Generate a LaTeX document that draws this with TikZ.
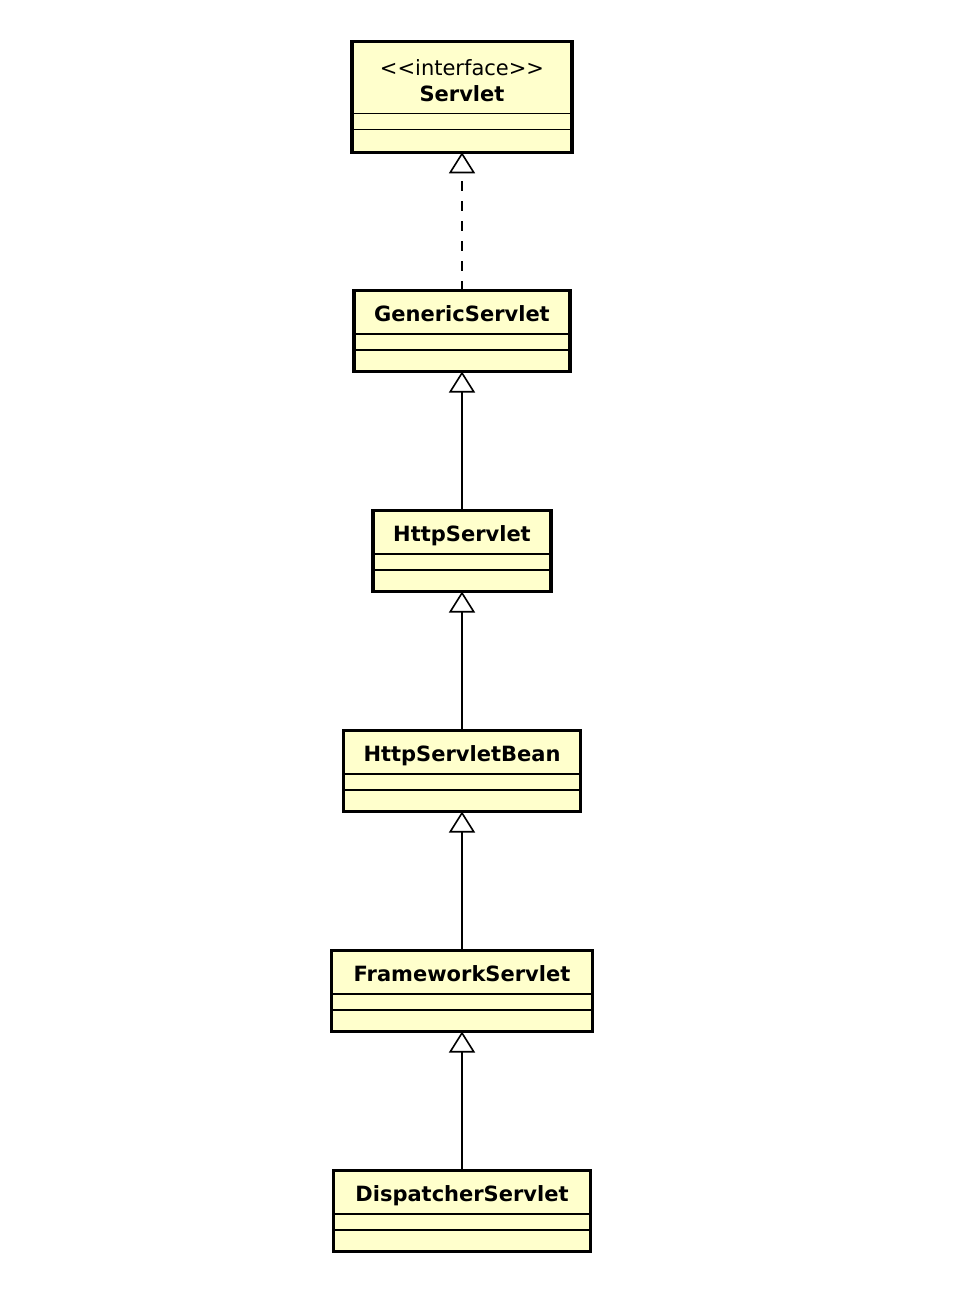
\documentclass[tikz,border=0pt]{standalone}
\usepackage{fontspec}
\setmainfont{DejaVu Sans}
\usetikzlibrary{arrows.meta,positioning}
\definecolor{classfill}{HTML}{FFFFCC}
\tikzset{
  classname/.style={draw, line width=1.4pt, fill=classfill, outer sep=0pt, inner sep=0pt,
    font=\fontsize{21}{26}\selectfont\bfseries, text height=17.5pt, text depth=0pt, align=center},
  classpart/.style={draw, line width=1.4pt, fill=classfill, outer sep=0pt, inner sep=0pt},
  classframe/.style={line width=3.4pt},
  inherit/.style={line width=1.6pt, -{Triangle[open, length=21pt, width=26pt]}},
  realize/.style={inherit, dash pattern=on 10pt off 10pt},
}
\begin{document}
\begin{tikzpicture}[x=1pt, y=-1pt]
  \useasboundingbox (0,0) rectangle (954,1304);

  % Drawing class Servlet
  \node [classname, font=\fontsize{21}{26}\selectfont, text height={}, text depth={},
    minimum width=220pt, minimum height=72.5pt] (servlet) at (462,77.5)
    {\rule{0pt}{22pt}<{}<interface>{}>\\\textbf{Servlet}};
  \node [classpart, minimum width=220pt, minimum height=15.5pt, below=0pt of servlet] (servlet-attr) {};
  \node [classpart, minimum width=220pt, minimum height=23pt, below=0pt of servlet-attr] (servlet-ops) {};
  \draw [classframe] (servlet.north west) rectangle (servlet-ops.south east);

  % Drawing class GenericServlet
  \node [classname, minimum width=216pt, minimum height=43.5pt] (generic) at (462,312.25) {GenericServlet};
  \node [classpart, minimum width=216pt, minimum height=16pt, below=0pt of generic] (generic-attr) {};
  \node [classpart, minimum width=216pt, minimum height=21.5pt, below=0pt of generic-attr] (generic-ops) {};
  \draw [classframe] (generic.north west) rectangle (generic-ops.south east);

  % Drawing class HttpServlet
  \node [classname, minimum width=178pt, minimum height=43.5pt] (http) at (462,532.25) {HttpServlet};
  \node [classpart, minimum width=178pt, minimum height=16pt, below=0pt of http] (http-attr) {};
  \node [classpart, minimum width=178pt, minimum height=21.5pt, below=0pt of http-attr] (http-ops) {};
  \draw [classframe] (http.north west) rectangle (http-ops.south east);

  % Drawing class HttpServletBean
  \node [classname, minimum width=237pt, minimum height=43.5pt] (bean) at (462,752.25) {HttpServletBean};
  \node [classpart, minimum width=237pt, minimum height=16pt, below=0pt of bean] (bean-attr) {};
  \node [classpart, minimum width=237pt, minimum height=21.5pt, below=0pt of bean-attr] (bean-ops) {};
  \draw [classframe] (bean.north west) rectangle (bean-ops.south east);

  % Drawing class FrameworkServlet
  \node [classname, minimum width=261pt, minimum height=43.5pt] (framework) at (462,972.25) {FrameworkServlet};
  \node [classpart, minimum width=261pt, minimum height=16pt, below=0pt of framework] (framework-attr) {};
  \node [classpart, minimum width=261pt, minimum height=21.5pt, below=0pt of framework-attr] (framework-ops) {};
  \draw [classframe] (framework.north west) rectangle (framework-ops.south east);

  % Drawing class DispatcherServlet
  \node [classname, minimum width=257pt, minimum height=43.5pt] (dispatcher) at (462,1192.25) {DispatcherServlet};
  \node [classpart, minimum width=257pt, minimum height=16pt, below=0pt of dispatcher] (dispatcher-attr) {};
  \node [classpart, minimum width=257pt, minimum height=21.5pt, below=0pt of dispatcher-attr] (dispatcher-ops) {};
  \draw [classframe] (dispatcher.north west) rectangle (dispatcher-ops.south east);

  % Drawing realization and generalizations
  \draw [realize] (generic.north) -- (servlet-ops.south);
  \draw [inherit] (http.north) -- (generic-ops.south);
  \draw [inherit] (bean.north) -- (http-ops.south);
  \draw [inherit] (framework.north) -- (bean-ops.south);
  \draw [inherit] (dispatcher.north) -- (framework-ops.south);
\end{tikzpicture}
\end{document}
